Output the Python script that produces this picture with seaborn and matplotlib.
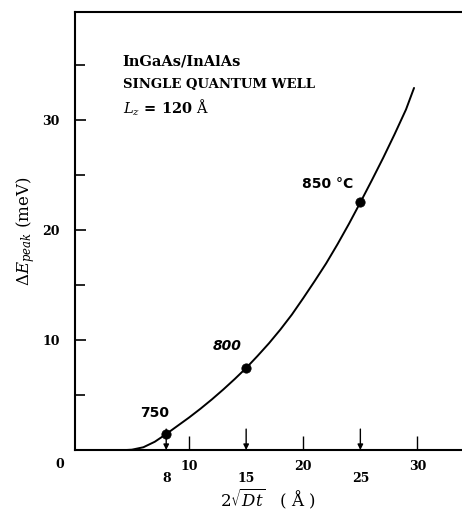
import numpy as np
import pandas as pd
import matplotlib
matplotlib.use("Agg")
import matplotlib.pyplot as plt
import seaborn as sns

# curve
curva_x = [0, 4.5, 5, 6, 7, 8, 9, 10, 11, 12, 13, 14, 15, 16, 17, 18, 19,
           20, 21, 22, 23, 24, 25, 26, 27, 28, 29, 29.7]
curva_y = [0, 0, 0.03, 0.25, 0.75, 1.45, 2.2, 2.95, 3.75, 4.6, 5.5, 6.45,
           7.45, 8.55, 9.7, 10.95, 12.3, 13.8, 15.35, 16.95, 18.7, 20.55,
           22.5, 24.5, 26.55, 28.7, 30.95, 32.9]

# measured points
puntos_x = [8, 15, 25]
puntos_y = [1.5, 7.45, 22.5]
temperaturas = ["750", "800", "850 \u00b0C"]

# arrows on the x axis
flechas_x = [8, 15, 25]

sns.set_style("ticks")
plt.rcParams["font.family"] = ["DejaVu Serif"]
plt.rcParams["mathtext.fontset"] = "dejavuserif"
for k in ["text.color", "axes.labelcolor", "xtick.color", "ytick.color",
          "axes.edgecolor"]:
    plt.rcParams[k] = "black"

fig = plt.figure(figsize=(4.62, 5.2), dpi=100)
ax = fig.add_axes([0.162, 0.1346, 0.838, 0.8423])

df_curva = pd.DataFrame({"x": curva_x, "y": curva_y})
df_puntos = pd.DataFrame({"x": puntos_x, "y": puntos_y})

sns.lineplot(data=df_curva, x="x", y="y", color="black", linewidth=1.4, ax=ax)
sns.scatterplot(data=df_puntos, x="x", y="y", color="black", s=45,
                edgecolor="black", zorder=5, ax=ax)

ax.set_xlim(0, 33.9)
ax.set_ylim(0, 39.8)

# y axis
ax.set_yticks([10, 20, 30])
ax.set_yticks([5, 15, 25, 35], minor=True)
ax.tick_params(axis="y", which="major", direction="in", length=8, width=1.2,
               labelsize=9, pad=11)
ax.tick_params(axis="y", which="minor", direction="in", length=7, width=1.2)
for lab in ax.get_yticklabels():
    lab.set_fontweight("bold")

# x axis
ax.set_xticks([10, 20, 30])
ax.set_xticklabels(["10", "20", "30"])
ax.tick_params(axis="x", which="major", direction="in", length=10, width=1.0,
               labelsize=9, pad=7)
for lab in ax.get_xticklabels():
    lab.set_fontweight("bold")

ax.set_xticks(flechas_x, minor=True)
ax.set_xticklabels([str(v) for v in flechas_x], minor=True)
ax.tick_params(axis="x", which="minor", length=0, labelsize=9, pad=16)
for lab in ax.get_xticklabels(minor=True):
    lab.set_fontweight("bold")

ax.text(-1.3, -1.3, "0", fontsize=9, fontweight="bold", ha="center", va="center")

for fx in flechas_x:
    ax.annotate("", xy=(fx, 0), xytext=(fx, 1.9),
                arrowprops=dict(arrowstyle="-|>", color="black", lw=1.0,
                                mutation_scale=8, shrinkA=0, shrinkB=0))

sns.despine(ax=ax, right=True, top=False)
for s in ["left", "bottom", "top"]:
    ax.spines[s].set_linewidth(1.5)

# labels
ax.set_xlabel(r"$2\sqrt{Dt}$   ( $\mathrm{\AA}$ )", fontsize=12, labelpad=1)
ax.set_ylabel(r"$\Delta E_{peak}$ (meV)", fontsize=12, labelpad=4)

# annotations
ax.text(4.2, 35.3, "InGaAs/InAlAs", fontsize=10.5, fontweight="bold", va="center")
ax.text(4.2, 33.2, "SINGLE QUANTUM WELL", fontsize=9.5, fontweight="bold",
        va="center")
ax.text(4.2, 31.1, r"$L_z$ = 120 $\mathrm{\AA}$", fontsize=10.5, fontweight="bold",
        va="center")

etiquetas_pos = [(5.7, 3.4, "normal"), (12.1, 9.45, "italic"), (19.9, 24.2, "normal")]
for (tx, ty, estilo), t in zip(etiquetas_pos, temperaturas):
    ax.text(tx, ty, t, fontsize=10, fontweight="bold", style=estilo,
            family="DejaVu Sans", va="center")

fig.savefig("out.png", dpi=100)
